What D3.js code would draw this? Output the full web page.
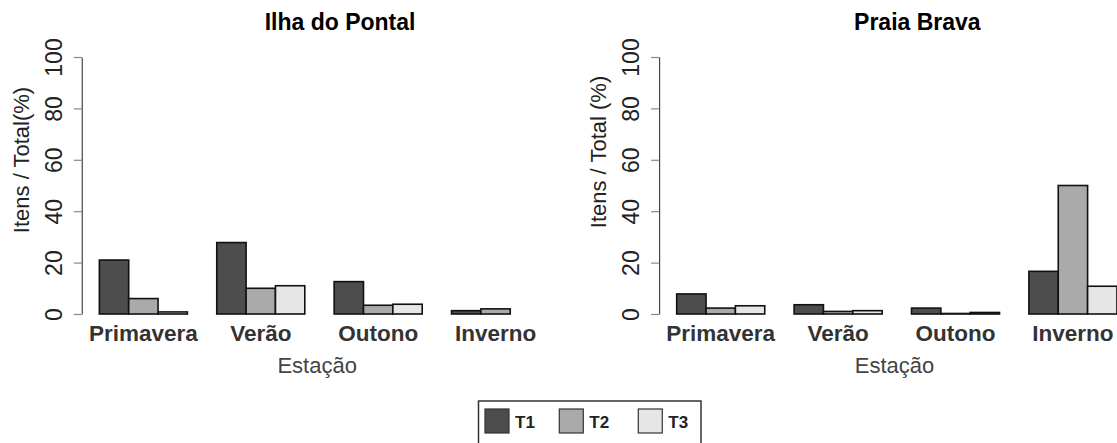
<!DOCTYPE html>
<html>
<head>
<meta charset="utf-8">
<script src="https://cdn.jsdelivr.net/npm/d3@7/dist/d3.min.js"></script>
<style>
  body { margin: 0; background: #fff; }
  svg { display: block; font-family: "Liberation Sans", Arial, sans-serif; }
</style>
</head>
<body>
<svg id="chart" width="1117" height="443"></svg>
<script>
const seasons = ["Primavera", "Verão", "Outono", "Inverno"];
const series = ["T1", "T2", "T3"];
const colors = ["#4d4d4d", "#aaaaaa", "#e6e6e6"];
const yTicks = [0, 20, 40, 60, 80, 100];

// values in %, one array per treatment, order = seasons
const pontalT1 = [21, 27.8, 12.6, 1.3];
const pontalT2 = [6, 10, 3.4, 2];
const pontalT3 = [0.8, 11, 3.8, 0];

const bravaT1 = [7.8, 3.6, 2.3, 16.6];
const bravaT2 = [2.3, 1.0, 0.2, 50];
const bravaT3 = [3.2, 1.3, 0.6, 10.8];

const panels = [
  { title: "Ilha do Pontal", ylab: "Itens / Total(%)", x0: 70, ylabY: 160, data: [pontalT1, pontalT2, pontalT3] },
  { title: "Praia Brava", ylab: "Itens / Total (%)", x0: 647.35, ylabY: 152, data: [bravaT1, bravaT2, bravaT3] }
];

const svg = d3.select("#chart");
const unit = 29.35;

const y = d3.scaleLinear().domain([0, 100]).range([314, 57]);

panels.forEach(p => {
  // x in barplot "units" like R: bars of width 1, space 1 between groups
  const x = d3.scaleLinear().domain([0, 1]).range([p.x0, p.x0 + unit]);
  const g = svg.append("g");

  const rows = [];
  seasons.forEach((s, i) => {
    series.forEach((t, j) => {
      rows.push({ s: i, t: j, v: p.data[j][i] });
    });
  });

  g.selectAll("rect.bar")
    .data(rows)
    .enter().append("rect")
    .attr("class", "bar")
    .attr("x", d => x(1 + d.s * 4 + d.t))
    .attr("width", unit)
    .attr("y", d => y(d.v))
    .attr("height", d => y(0) - y(d.v))
    .attr("fill", d => colors[d.t])
    .attr("stroke", "#111")
    .attr("stroke-width", 1.6);

  // y axis
  const ax = g.append("g")
    .attr("transform", "translate(" + x(0.4) + ",0)")
    .call(d3.axisLeft(y).tickValues(yTicks).tickSize(8).tickSizeOuter(0));
  ax.select(".domain").attr("stroke", "#444").attr("stroke-width", 1.2);
  ax.selectAll(".tick line").attr("stroke", "#888").attr("stroke-width", 1.2);
  ax.selectAll(".tick text")
    .attr("transform", "rotate(-90)")
    .attr("x", 0)
    .attr("y", -20)
    .attr("dy", 0)
    .attr("text-anchor", "middle")
    .attr("fill", "#222")
    .style("font-size", "23px")
    .style("font-family", "'Liberation Sans', Arial, sans-serif");

  // category labels
  g.selectAll("text.cat")
    .data(seasons)
    .enter().append("text")
    .attr("class", "cat")
    .attr("x", (d, i) => x(1 + i * 4 + 1.5))
    .attr("y", 341)
    .attr("text-anchor", "middle")
    .attr("fill", "#333")
    .style("font-size", "22.5px")
    .style("font-weight", "bold")
    .text(d => d);

  g.append("text")
    .attr("x", x(8.42))
    .attr("y", 373)
    .attr("text-anchor", "middle")
    .attr("fill", "#444")
    .style("font-size", "22px")
    .text("Estação");

  g.append("text")
    .attr("x", x(9.2))
    .attr("y", 30)
    .attr("text-anchor", "middle")
    .attr("fill", "#000")
    .style("font-size", "23px")
    .style("font-weight", "bold")
    .text(p.title);

  g.append("text")
    .attr("transform", "translate(" + (x(0.4) - 53) + "," + p.ylabY + ") rotate(-90)")
    .attr("text-anchor", "middle")
    .attr("fill", "#222")
    .style("font-size", "22px")
    .text(p.ylab);
});

// legend
const leg = svg.append("g");
leg.append("rect")
  .attr("x", 478.5).attr("y", 401)
  .attr("width", 222.5).attr("height", 60)
  .attr("fill", "none").attr("stroke", "#333").attr("stroke-width", 1.5);

const legX = [485, 559.3, 638.3];
const items = leg.selectAll("g.item")
  .data(series)
  .enter().append("g")
  .attr("class", "item")
  .attr("transform", (d, i) => "translate(" + legX[i] + ",409)");

items.append("rect")
  .attr("width", 24).attr("height", 24)
  .attr("fill", (d, i) => colors[i])
  .attr("stroke", "#333").attr("stroke-width", 1.2);

items.append("text")
  .attr("x", 30).attr("y", 19)
  .attr("fill", "#222")
  .style("font-size", "17px")
  .style("font-weight", "bold")
  .text(d => d);
</script>
</body>
</html>
